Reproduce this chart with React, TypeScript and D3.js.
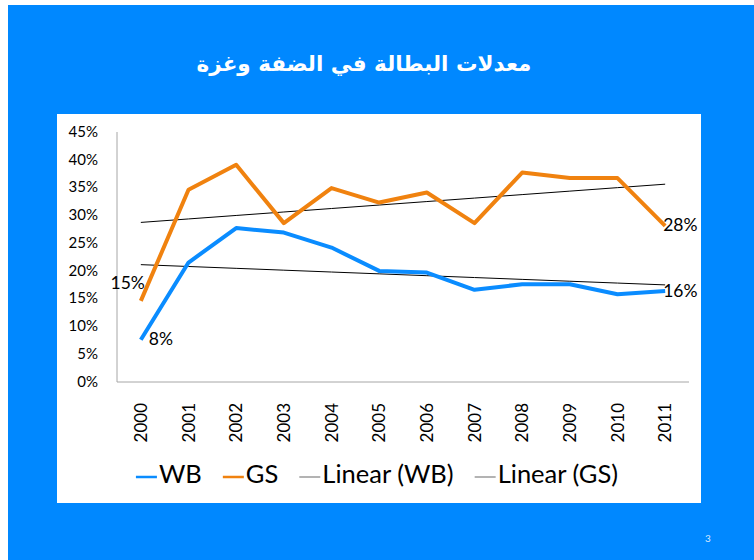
import React, { useEffect, useRef } from 'react';
import * as d3 from 'd3';

const years = ['2000', '2001', '2002', '2003', '2004', '2005', '2006', '2007', '2008', '2009', '2010', '2011'];
const wbValues = [0.076, 0.215, 0.277, 0.269, 0.242, 0.2, 0.197, 0.166, 0.176, 0.176, 0.158, 0.164];
const gsValues = [0.146, 0.346, 0.391, 0.286, 0.349, 0.323, 0.341, 0.286, 0.377, 0.367, 0.367, 0.281];
const yTicks = [0, 0.05, 0.1, 0.15, 0.2, 0.25, 0.3, 0.35, 0.4, 0.45];
const titleText = 'معدلات البطالة في الضفة وغزة';
const legendLabels = ['WB', 'GS', 'Linear (WB)', 'Linear (GS)'];
const pageNumber = '3';

const BLUE_BG = '#0088ff';
const WB_COLOR = '#0a8cff';
const GS_COLOR = '#f0820f';

// least squares fit, the "Linear" trendline of the spreadsheet
function linearFit(values: number[]) {
  const n = values.length;
  const mx = (n - 1) / 2;
  const my = d3.mean(values) as number;
  let sxy = 0;
  let sxx = 0;
  values.forEach((v, i) => {
    sxy += (i - mx) * (v - my);
    sxx += (i - mx) * (i - mx);
  });
  const slope = sxy / sxx;
  return values.map((_, i) => my + slope * (i - mx));
}

export default function App() {
  const svgRef = useRef<SVGSVGElement>(null);
  const width = 746;
  const height = 555;

  useEffect(() => {
    if (!svgRef.current) return;
    const svg = d3.select(svgRef.current);
    svg.selectAll('*').remove();

    // page coordinates (svg sits at 8,5)
    const root = svg.append('g').attr('transform', 'translate(-8,-5)');

    root.append('rect')
      .attr('x', 8).attr('y', 5)
      .attr('width', width).attr('height', height)
      .attr('fill', BLUE_BG);

    root.append('text')
      .attr('x', 364)
      .attr('y', 65)
      .attr('text-anchor', 'middle')
      .attr('dominant-baseline', 'middle')
      .attr('fill', '#fff')
      .style('font-family', '"DejaVu Sans", sans-serif')
      .style('font-weight', 'bold')
      .style('font-size', '21.5px')
      .text(titleText);

    root.append('rect')
      .attr('x', 57).attr('y', 114)
      .attr('width', 644).attr('height', 389)
      .attr('fill', '#fff');

    root.append('text')
      .attr('x', 708)
      .attr('y', 539)
      .attr('text-anchor', 'middle')
      .attr('dominant-baseline', 'middle')
      .attr('fill', '#d6e8ff')
      .style('font-family', 'Lato, sans-serif')
      .style('font-size', '10px')
      .text(pageNumber);

    const plot = { left: 117, right: 689, top: 132, bottom: 382 };

    const x = d3.scaleBand<string>()
      .domain(years)
      .range([plot.left, plot.right])
      .padding(0);
    const cx = (d: string) => (x(d) as number) + x.bandwidth() / 2;

    const y = d3.scaleLinear()
      .domain([0, 0.45])
      .range([plot.bottom, plot.top]);

    const fmt = d3.format('.0%');

    // axes lines
    root.append('line')
      .attr('x1', plot.left).attr('x2', plot.left)
      .attr('y1', plot.top).attr('y2', plot.bottom)
      .attr('stroke', '#a6a6a6').attr('stroke-width', 1);
    root.append('line')
      .attr('x1', plot.left).attr('x2', plot.right)
      .attr('y1', plot.bottom).attr('y2', plot.bottom)
      .attr('stroke', '#a6a6a6').attr('stroke-width', 1);

    root.append('g')
      .selectAll('text')
      .data(yTicks)
      .enter()
      .append('text')
      .attr('x', 98)
      .attr('y', d => y(d) + 1)
      .attr('text-anchor', 'end')
      .attr('dominant-baseline', 'middle')
      .attr('fill', '#000')
      .style('font-family', 'Lato, sans-serif')
      .style('font-size', '15px')
      .text(d => fmt(d));

    root.append('g')
      .selectAll('text')
      .data(years)
      .enter()
      .append('text')
      .attr('transform', d => `translate(${cx(d)},${403}) rotate(-90)`)
      .attr('text-anchor', 'end')
      .attr('dy', '0.36em')
      .attr('fill', '#000')
      .style('font-family', 'Lato, sans-serif')
      .style('font-size', '17px')
      .text(d => d);

    const line = d3.line<number>()
      .x((_, i) => cx(years[i]))
      .y(d => y(d));

    // trendlines
    [wbValues, gsValues].forEach(vals => {
      root.append('path')
        .datum(linearFit(vals))
        .attr('d', line)
        .attr('fill', 'none')
        .attr('stroke', '#000')
        .attr('stroke-width', 1);
    });

    root.append('path')
      .datum(wbValues)
      .attr('d', line)
      .attr('fill', 'none')
      .attr('stroke', WB_COLOR)
      .attr('stroke-width', 4)
      .attr('stroke-linejoin', 'round');

    root.append('path')
      .datum(gsValues)
      .attr('d', line)
      .attr('fill', 'none')
      .attr('stroke', GS_COLOR)
      .attr('stroke-width', 4)
      .attr('stroke-linejoin', 'round');

    // data labels at first and last point
    const last = years.length - 1;
    const labels = [
      { v: gsValues[0], i: 0, dx: 4, dy: -16, anchor: 'end' },
      { v: wbValues[0], i: 0, dx: 8, dy: 1, anchor: 'start' },
      { v: gsValues[last], i: last, dx: -2, dy: 1, anchor: 'start' },
      { v: wbValues[last], i: last, dx: -2, dy: 2, anchor: 'start' },
    ];
    root.append('g')
      .selectAll('text')
      .data(labels)
      .enter()
      .append('text')
      .attr('x', d => cx(years[d.i]) + d.dx)
      .attr('y', d => y(d.v) + d.dy)
      .attr('text-anchor', d => d.anchor)
      .attr('dominant-baseline', 'middle')
      .attr('fill', '#000')
      .style('font-family', 'Lato, sans-serif')
      .style('font-size', '17.5px')
      .text(d => fmt(d.v));

    // legend
    const legendColors = [WB_COLOR, GS_COLOR, '#808080', '#808080'];
    const legendWidths = [2.5, 2.5, 1.2, 1.2];
    const legend = root.append('g');
    let lx = 0;
    legendLabels.forEach((label, i) => {
      const item = legend.append('g').attr('transform', `translate(${lx},0)`);
      item.append('line')
        .attr('x1', 0).attr('x2', 21)
        .attr('y1', 0).attr('y2', 0)
        .attr('stroke', legendColors[i])
        .attr('stroke-width', legendWidths[i]);
      const t = item.append('text')
        .attr('x', 23)
        .attr('y', 0)
        .attr('dominant-baseline', 'middle')
        .attr('fill', '#000')
        .style('font-family', 'Lato, sans-serif')
        .style('font-size', '25.5px')
        .text(label);
      const w = (t.node() as SVGTextElement).getComputedTextLength();
      lx += 23 + w + 21;
    });
    const totalW = lx - 21;
    legend.attr('transform', `translate(${377 - totalW / 2},477)`);
  }, []);

  return (
    <svg
      ref={svgRef}
      width={width}
      height={height}
      style={{ position: 'absolute', left: 8, top: 5, display: 'block' }}
    />
  );
}
